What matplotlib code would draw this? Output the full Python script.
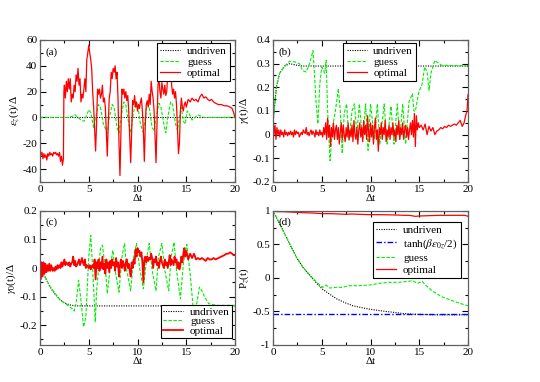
import matplotlib
matplotlib.use("Agg")
from matplotlib import pyplot as plt
from matplotlib.ticker import MultipleLocator, FuncFormatter

# ---- panel (a): eps_z(t)/Delta ----
A_UND_T = [0.0, 20.0]
A_UND_Y = [0.0, 0.0]
A_GUESS_T = [0.0, 3.0, 3.3, 3.6, 3.9, 4.2, 4.5, 4.7, 5.0, 5.2, 5.5, 5.7, 6.0, 6.2, 6.5, 6.9, 7.1, 7.4, 7.6, 7.9, 8.1,
             8.3, 8.6, 8.8, 9.1, 9.3, 9.5, 9.8, 10.0, 10.3, 10.6, 10.8, 11.0, 11.2, 11.5, 11.7, 11.9, 12.2, 12.4, 12.7,
             12.9, 13.1, 13.4, 13.6, 13.9, 14.1, 14.3, 14.5, 14.7, 14.9, 15.1, 15.3, 15.6, 15.9, 16.2, 16.5, 16.8, 20.0]
A_GUESS_Y = [0, 0, 1, 2, 0, -2, -3, 0, 6, 4, -8, 0, 10, 8, -5, -12, 0, 10, 8, -8, -12,
             0, 12, 10, -5, -12, 0, 12, 10, -5, -12, 0, 12, 8, -8, -10, 0, 11, 8, -5,
             -12, 0, 12, 10, -5, -10, 0, 8, -3, -5, 5, 3, -2, 0, 2, 1, 0, 0]
A_OPT_T = [0.0, 0.05, 0.2, 0.3, 0.4, 0.5, 0.6, 0.7, 0.8, 0.9, 1.0, 1.1, 1.2, 1.3, 1.4, 1.5, 1.6, 1.7, 1.8, 1.9,
           2.0, 2.1, 2.2, 2.3, 2.4, 2.45, 2.5, 2.6, 2.7, 2.8, 2.9, 3.0, 3.1, 3.2, 3.3, 3.4, 3.5, 3.6, 3.7, 3.8,
           3.9, 4.0, 4.1, 4.2, 4.3, 4.4, 4.5, 4.6, 4.7, 4.8, 4.9, 5.0, 5.1, 5.2, 5.3, 5.4, 5.5, 5.6, 5.7, 5.8,
           5.9, 6.0, 6.1, 6.2, 6.3, 6.4, 6.5, 6.6, 6.7, 6.8, 6.9, 7.0, 7.1, 7.2, 7.3, 7.4, 7.5, 7.6, 7.7, 7.8,
           7.9, 8.0, 8.1, 8.2, 8.3, 8.4, 8.5, 8.6, 8.7, 8.8, 8.9, 9.0, 9.1, 9.2, 9.3, 9.4, 9.5, 9.6, 9.7, 9.8,
           9.9, 10.0, 10.1, 10.2, 10.3, 10.4, 10.5, 10.6, 10.7, 10.8, 10.9, 11.0, 11.1, 11.2, 11.3, 11.4, 11.5,
           11.6, 11.7, 11.8, 11.9, 12.0, 12.1, 12.2, 12.3, 12.4, 12.5, 12.6, 12.7, 12.8, 12.9, 13.0, 13.1, 13.2,
           13.3, 13.4, 13.5, 13.6, 13.7, 13.8, 13.9, 14.0, 14.1, 14.2, 14.3, 14.4, 14.5, 14.6, 14.7, 14.8, 14.9,
           15.0, 15.2, 15.4, 15.6, 15.8, 16.0, 16.2, 16.4, 16.6, 16.8, 17.0, 17.2, 17.4, 17.6, 17.8, 18.0, 18.3,
           18.6, 18.9, 19.2, 19.5, 19.7, 19.85, 20.0]
A_OPT_Y = [0, -30, -27, -32, -28, -31, -29, -33, -28, -30, -27, -29, -28, -30, -27, -28, -27, -29, -28, -30,
           -27, -34, -30, -37, -32, 20, 25, 15, 28, 20, 30, 22, 30, 12, 18, 15, 25, 20, 33, 28,
           38, 25, 30, 12, 18, 15, 22, 30, 20, 45, 50, 56, 50, 45, 38, 20, 8, -10, -26, -5,
           22, 18, 22, 15, 18, 25, 12, 15, 8, -10, -30, -5, 15, 20, 35, 30, 38, 35, 40, 30,
           35, 15, -20, -45, -10, 22, 18, 22, 15, 20, 13, 17, 5, -15, -35, -10, 13, 10, 17, 8,
           12, 5, 10, 7, 12, 15, 5, -10, -34, -5, 10, 13, 8, 18, 10, 28, 20,
           15, 5, -15, -35, -5, 25, 30, 20, 15, 27, 22, 18, 25, 17, 20, 35, 45,
           30, 40, 25, 18, 22, 15, 20, 10, -10, -28, -20, 5, 15, 8, 5, 10, 12,
           8, 14, 12, 15, 13, 14, 12, 16, 18, 15, 16, 14, 13, 14, 12, 11, 10,
           10, 9, 9, 8, 7, 4, 0]

# ---- panel (b): gamma(t)/Delta ----
B_UND_T = [0.0, 0.34, 0.68, 1.2, 1.7, 2.5, 3.0, 20.0]
B_UND_Y = [0.05, 0.2, 0.26, 0.29, 0.30, 0.293, 0.29, 0.29]
B_GUESS_T = [0.0, 0.34, 0.68, 1.2, 1.7, 2.2, 2.7, 3.06, 3.4, 3.75, 4.1, 4.25, 4.4, 4.6, 4.8, 5.0, 5.3, 5.45, 5.6, 5.85,
             6.1, 6.4, 6.7, 6.9, 7.1, 7.3, 7.55, 7.8, 8.1, 8.35, 8.6, 8.85, 9.2, 9.5, 9.75, 10.0, 10.4, 10.7, 10.95,
             11.4, 11.7, 12.1, 12.4, 12.75, 13.0, 13.3, 13.6, 13.95, 14.3, 14.45, 14.6, 14.95, 15.3, 15.55, 15.8,
             16.0, 16.2, 16.6, 16.8, 17.3, 18.0, 20.0]
B_GUESS_Y = [0.046, 0.2, 0.26, 0.29, 0.31, 0.308, 0.30, 0.27, 0.265, 0.30, 0.355, 0.26, 0.145, 0.046, 0.215, 0.286,
             0.26, 0.314, 0.10, -0.11, 0.03, 0.10, 0.195, 0.10, -0.08, 0.09, 0.13, -0.024, 0.10, 0.13, 0.0, 0.13,
             -0.02, 0.13, -0.066, 0.13, -0.02, 0.13, -0.04, 0.13, -0.04, 0.12, -0.04, 0.13, -0.02, 0.13, -0.04,
             0.14, 0.173, 0.10, 0.10, 0.18, 0.215, 0.286, 0.265, 0.187, 0.26, 0.314, 0.307, 0.293, 0.293, 0.29]
B_OPT_T = [0.0, 0.1, 0.2, 0.3, 0.4, 0.5, 0.6, 0.7, 0.8, 0.9, 1.0, 1.1, 1.2, 1.3, 1.4, 1.5, 1.6, 1.7, 1.8, 1.9,
           2.0, 2.1, 2.2, 2.3, 2.4, 2.5, 2.6, 2.7, 2.8, 2.9, 3.0, 3.1, 3.2, 3.3, 3.4, 3.5, 3.6, 3.7, 3.8, 3.9,
           4.0, 4.1, 4.2, 4.3, 4.4, 4.5, 4.6, 4.7, 4.8, 4.9, 5.0, 5.1, 5.2, 5.3, 5.4, 5.5, 5.6, 5.7, 5.8, 5.9,
           6.0, 6.1, 6.2, 6.3, 6.4, 6.5, 6.6, 6.7, 6.8, 6.9, 7.0, 7.1, 7.2, 7.3, 7.4, 7.5, 7.6, 7.7, 7.8, 7.9,
           8.0, 8.1, 8.2, 8.3, 8.4, 8.5, 8.6, 8.7, 8.8, 8.9, 9.0, 9.1, 9.2, 9.3, 9.4, 9.5, 9.6, 9.7, 9.8, 9.9,
           10.0, 10.1, 10.2, 10.3, 10.4, 10.5, 10.6, 10.7, 10.8, 10.9, 11.0, 11.1, 11.2, 11.3, 11.4, 11.5, 11.6,
           11.7, 11.8, 11.9, 12.0, 12.1, 12.2, 12.3, 12.4, 12.5, 12.6, 12.7, 12.8, 12.9, 13.0, 13.1, 13.2, 13.3,
           13.4, 13.5, 13.6, 13.7, 13.8, 13.9, 14.0, 14.1, 14.2, 14.3, 14.4, 14.5, 14.6, 14.7, 14.8, 14.9, 15.0,
           15.2, 15.4, 15.6, 15.8, 16.0, 16.2, 16.4, 16.6, 16.8, 17.0, 17.2, 17.4, 17.6, 17.8, 18.0, 18.2, 18.4,
           18.6, 18.8, 19.0, 19.2, 19.4, 19.6, 19.75, 19.9, 20.0]
B_OPT_Y = [0.07, 0.0, 0.04, -0.02, 0.03, 0.0, 0.02, -0.01, 0.02, 0.0, 0.01, -0.01, 0.02, 0.0, 0.01, -0.005, 0.01, 0.0,
           0.015, 0.0, 0.01, -0.01, 0.02, 0.0, 0.015, 0.005, 0.01, -0.01, 0.0, 0.01, 0.0, 0.02, 0.01, 0.005, 0.03, 0.0,
           0.01, -0.005, 0.01, 0.02, 0.0, 0.015, 0.005, -0.01, 0.02, 0.0, 0.01, -0.005, 0.02, 0.0, 0.01, -0.01, 0.03,
           0.0, 0.05, -0.02, 0.07, -0.01, 0.04, -0.05, 0.03, -0.01, 0.05, -0.02, 0.02, 0.04, -0.02, 0.03, -0.04, 0.01,
           0.05, -0.02, 0.04, 0.0, -0.03, 0.03, -0.01, 0.05, -0.02, 0.02, -0.01, 0.04, -0.03, 0.06, 0.0, -0.02, 0.03,
           -0.04, 0.02, 0.05, -0.01, 0.03, -0.03, 0.06, 0.0, 0.04, -0.02, 0.08, 0.01, -0.03, 0.05, -0.01, 0.04, -0.04,
           0.03, 0.07, -0.02, 0.02, -0.07, 0.03, 0.0, 0.05, -0.02, 0.03, 0.0, 0.06, -0.03, 0.02, -0.01, 0.04, -0.02,
           0.03, 0.0, 0.05, -0.01, 0.02, -0.03, 0.04, 0.0, 0.06, -0.02, 0.03, 0.0, 0.05, -0.02, 0.02, 0.04, -0.01,
           0.03, -0.02, 0.02, 0.05, 0.0, 0.06, -0.01, 0.09, -0.05, 0.08, 0.02, 0.05, 0.03, 0.04, 0.02, 0.045, 0.0,
           0.035, 0.015, 0.03, 0.0, 0.015, 0.02, 0.03, 0.025, 0.035, 0.03, 0.04, 0.035, 0.04, 0.045, 0.04, 0.05,
           0.06, 0.035, 0.05, 0.08, 0.1, 0.17]

# ---- panel (c): gamma_0(t)/Delta ----
C_UND_T = [0.0, 0.5, 1.0, 1.5, 2.0, 2.5, 3.0, 3.5, 4.0, 20.0]
C_UND_Y = [0.0, -0.03, -0.065, -0.09, -0.11, -0.122, -0.129, -0.132, -0.133, -0.133]
C_GUESS_T = [0.0, 0.2, 0.7, 1.06, 1.57, 2.1, 2.76, 3.3, 3.5, 3.7, 3.96, 4.2, 4.47, 4.7, 5.0, 5.2, 5.4, 5.67, 5.8, 6.2,
             6.4, 6.7, 6.9, 7.2, 7.47, 7.7, 8.1, 8.4, 8.67, 8.9, 9.3, 9.6, 9.9, 10.2, 10.6, 10.95, 11.2, 11.5, 11.9,
             12.15, 12.5, 12.8, 13.2, 13.45, 13.75, 14.0, 14.4, 14.7, 15.05, 15.4, 15.7, 15.9, 16.1, 16.35, 16.6,
             16.9, 17.3, 18.1, 20.0]
C_GUESS_Y = [0.0, -0.01, -0.043, -0.067, -0.09, -0.114, -0.129, -0.143, -0.151, -0.125, -0.043, -0.114, -0.207,
             -0.172, 0.039, 0.115, 0.0, -0.19, -0.08, 0.068, 0.08, 0.0, -0.09, 0.0, 0.062, -0.008, -0.085, 0.039,
             0.086, -0.008, -0.08, 0.039, 0.086, 0.004, -0.073, 0.039, 0.086, -0.008, -0.08, 0.039, 0.086, -0.008,
             -0.08, 0.039, 0.09, -0.008, -0.108, 0.015, 0.083, -0.02, -0.137, -0.15, -0.12, -0.067, -0.08, -0.102,
             -0.125, -0.131, -0.131]
C_OPT_T = [0.0, 0.05, 0.15, 0.25, 0.35, 0.45, 0.55, 0.65, 0.75, 0.85, 0.95, 1.05, 1.15, 1.3, 1.4, 1.5, 1.6, 1.7,
           1.8, 1.9, 2.0, 2.1, 2.2, 2.3, 2.5, 2.6, 2.7, 2.8, 2.9, 3.0, 3.1, 3.2, 3.3, 3.4, 3.5, 3.6, 3.7, 3.8, 3.9,
           4.0, 4.1, 4.2, 4.3, 4.4, 4.5, 4.6, 4.7, 4.8, 4.9, 5.0, 5.1, 5.2, 5.3, 5.4, 5.5, 5.6, 5.7, 5.8, 5.9, 6.0,
           6.1, 6.2, 6.3, 6.4, 6.5, 6.6, 6.7, 6.8, 6.9, 7.0, 7.1, 7.2, 7.3, 7.4, 7.5, 7.6, 7.7, 7.8, 7.9, 8.0, 8.1,
           8.2, 8.3, 8.4, 8.5, 8.6, 8.7, 8.8, 8.9, 9.0, 9.1, 9.2, 9.3, 9.4, 9.5, 9.6, 9.7, 9.8, 9.9, 10.0, 10.1,
           10.2, 10.3, 10.4, 10.5, 10.6, 10.7, 10.8, 10.9, 11.0, 11.1, 11.2, 11.3, 11.4, 11.5, 11.6, 11.7, 11.8,
           11.9, 12.0, 12.1, 12.2, 12.3, 12.4, 12.5, 12.6, 12.7, 12.8, 12.9, 13.0, 13.1, 13.2, 13.3, 13.4, 13.5,
           13.6, 13.7, 13.8, 13.9, 14.0, 14.1, 14.2, 14.3, 14.4, 14.5, 14.6, 14.7, 14.8, 14.9, 15.0, 15.2, 15.4,
           15.6, 15.8, 16.0, 16.2, 16.4, 16.6, 16.8, 17.0, 17.2, 17.4, 17.6, 17.8, 18.0, 18.3, 18.6, 18.9, 19.1,
           19.3, 19.5, 19.7, 19.85, 20.0]
C_OPT_Y = [0.0, -0.04, 0.02, -0.03, 0.02, -0.02, 0.015, -0.015, 0.01, -0.01, 0.015, -0.01, 0.01, -0.01, 0.0, -0.01,
           0.005, -0.005, 0.01, 0.0, 0.01, 0.0, 0.02, 0.005, 0.03, 0.01, 0.02, 0.015, 0.01, 0.02, 0.005, 0.015, 0.02,
           0.04, 0.01, 0.025, 0.005, 0.01, 0.02, 0.03, 0.01, 0.02, 0.035, 0.02, 0.01, 0.03, 0.0, 0.01, 0.005, 0.0,
           0.01, -0.005, 0.005, 0.01, 0.0, 0.03, -0.04, 0.02, 0.0, 0.03, -0.01, 0.02, 0.0, 0.04, -0.005, 0.015,
           -0.02, 0.03, 0.0, 0.02, -0.015, 0.025, 0.0, 0.03, 0.01, 0.02, -0.01, 0.035, 0.005, 0.02, -0.03, 0.01,
           0.03, 0.0, 0.025, 0.01, -0.01, 0.02, 0.03, 0.0, 0.015, -0.01, -0.03, 0.02, 0.0, 0.03, 0.015, 0.065, 0.04,
           0.07, 0.055, 0.06, 0.04, 0.055, 0.02, -0.05, 0.03, 0.04, 0.02, 0.04, 0.025, 0.035, 0.03, 0.05, 0.035,
           0.0, 0.03, 0.02, 0.04, 0.01, 0.02, 0.0, 0.025, 0.04, 0.02, 0.01, 0.0, 0.03, 0.01, 0.02, 0.0, 0.02, 0.045,
           0.01, 0.03, 0.02, 0.01, 0.04, 0.02, 0.03, 0.0, 0.02, -0.005, 0.01, 0.04, 0.02, 0.05, 0.07, 0.04, 0.06,
           0.03, 0.05, 0.035, 0.05, 0.03, 0.035, 0.03, 0.035, 0.03, 0.025, 0.035, 0.03, 0.03, 0.035, 0.03, 0.035,
           0.04, 0.045, 0.05, 0.05, 0.055, 0.05, 0.045, 0.045]

# ---- panel (d): P_z(t) ----
D_UND_T = [0.0, 1.02, 1.7, 2.4, 3.06, 3.9, 4.6, 5.1, 5.6, 6.5, 7.4, 8.2, 9.0, 9.9, 10.8, 11.6, 12.5, 13.3, 14.3,
           15.5, 16.7, 20.0]
D_UND_Y = [1.0, 0.71, 0.51, 0.31, 0.16, 0.02, -0.1, -0.17, -0.22, -0.31, -0.37, -0.415, -0.44, -0.465, -0.485,
           -0.5, -0.515, -0.53, -0.54, -0.545, -0.55, -0.55]
D_TANH = -0.54
D_GUESS_T = [0.0, 0.34, 1.02, 1.7, 2.4, 3.06, 3.9, 4.6, 5.1, 5.44, 5.8, 6.5, 7.1, 7.8, 8.8, 9.9, 10.9, 11.9, 12.9,
             13.9, 14.3, 14.8, 15.3, 15.65, 16.3, 17.3, 18.4, 19.2, 20.0]
D_GUESS_Y = [1.0, 0.91, 0.71, 0.51, 0.31, 0.16, 0.02, -0.08, -0.14, -0.105, -0.15, -0.14, -0.14, -0.115, -0.115,
             -0.105, -0.08, -0.065, -0.065, -0.05, -0.04, -0.08, -0.05, -0.105, -0.19, -0.28, -0.34, -0.38, -0.415]
D_OPT_T = [0.0, 0.5, 1.0, 2.4, 3.0, 4.0, 5.1, 6.0, 7.5, 8.0, 9.9, 11.0, 12.6, 13.5, 14.0, 14.6, 15.0, 16.0, 17.0,
           18.4, 19.7, 20.0]
D_OPT_Y = [1.0, 0.99, 0.99, 0.98, 0.975, 0.97, 0.96, 0.96, 0.95, 0.955, 0.945, 0.945, 0.94, 0.935, 0.935, 0.92,
           0.925, 0.93, 0.935, 0.935, 0.935, 0.92]

LABELS3 = ["undriven", "guess", "optimal"]
LABEL_TANH = r"tanh($\beta\epsilon_{0z}$/2)"

RED = "#ff0000"
GREEN = "#00ee00"
SPINE = "#606060"


def style_axes(ax, ylim, ymaj, ymin, ylabel, tag):
    ax.set_xlim(0, 20)
    ax.set_ylim(*ylim)
    ax.xaxis.set_major_locator(MultipleLocator(5))
    ax.xaxis.set_minor_locator(MultipleLocator(2.5))
    ax.yaxis.set_major_locator(MultipleLocator(ymaj))
    ax.yaxis.set_minor_locator(MultipleLocator(ymin))
    ax.yaxis.set_major_formatter(FuncFormatter(lambda v, p: f"{round(v, 6):g}"))
    ax.tick_params(which="both", direction="in", top=True, right=True, labelsize=8, color="black", pad=2)
    ax.tick_params(which="major", length=4, width=0.8)
    ax.tick_params(which="minor", length=2, width=0.8)
    for s in ax.spines.values():
        s.set_color(SPINE)
        s.set_linewidth(0.9)
    ax.set_xlabel("Δt", fontsize=8, labelpad=0)
    ax.set_ylabel(ylabel, fontsize=8, labelpad=1)
    ax.text(0.03, 0.95, tag, transform=ax.transAxes, fontsize=8, va="top", ha="left")


def legend(ax, spacing=0.1, pad=0.3, **kw):
    leg = ax.legend(fontsize=8, frameon=True, fancybox=False, edgecolor="black", framealpha=1,
                    handlelength=1.8, handletextpad=0.6, labelspacing=spacing, borderpad=pad, borderaxespad=0, **kw)
    leg.get_frame().set_linewidth(0.8)
    return leg


def main() -> None:
    plt.rcParams["font.family"] = ["Liberation Serif", "DejaVu Serif"]
    plt.rcParams["mathtext.fontset"] = "stix"
    plt.rcParams["axes.unicode_minus"] = False
    fig = plt.figure(figsize=(5.4, 3.82), dpi=100)

    ax = fig.add_axes([0.0741, 0.5236, 0.3611, 0.3717])
    ax.plot(A_UND_T, A_UND_Y, color="black", ls=(0, (1, 1.2)), lw=0.8, label=LABELS3[0])
    ax.plot(A_GUESS_T, A_GUESS_Y, color=GREEN, ls=(0, (3, 1.5)), lw=0.8, label=LABELS3[1])
    ax.plot(A_OPT_T, A_OPT_Y, color=RED, lw=0.9, label=LABELS3[2])
    style_axes(ax, (-50, 60), 20, 10, r"$\epsilon_z$(t)/Δ", "(a)")
    legend(ax, loc="upper right", bbox_to_anchor=(0.975, 0.98))

    ax = fig.add_axes([0.5056, 0.5236, 0.3611, 0.3717])
    ax.plot(B_UND_T, B_UND_Y, color="black", ls=(0, (1, 1.2)), lw=0.8, label=LABELS3[0])
    ax.plot(B_GUESS_T, B_GUESS_Y, color=GREEN, ls=(0, (3, 1.5)), lw=0.8, label=LABELS3[1])
    ax.plot(B_OPT_T, B_OPT_Y, color=RED, lw=0.9, label=LABELS3[2])
    style_axes(ax, (-0.2, 0.4), 0.1, 0.05, r"$\gamma$(t)/Δ", "(b)")
    legend(ax, loc="upper left", bbox_to_anchor=(0.36, 0.98))

    ax = fig.add_axes([0.0741, 0.0969, 0.3611, 0.3508])
    ax.plot(C_UND_T, C_UND_Y, color="black", ls=(0, (1, 1.2)), lw=0.8, label=LABELS3[0])
    ax.plot(C_GUESS_T, C_GUESS_Y, color=GREEN, ls=(0, (3, 1.5)), lw=0.8, label=LABELS3[1])
    ax.plot(C_OPT_T, C_OPT_Y, color=RED, lw=1.3, label=LABELS3[2])
    style_axes(ax, (-0.27, 0.2), 0.1, 0.05, r"$\gamma_0$(t)/Δ", "(c)")
    legend(ax, spacing=0.0, pad=0.2, loc="lower right", bbox_to_anchor=(0.985, 0.05))

    ax = fig.add_axes([0.5056, 0.0969, 0.3611, 0.3508])
    ax.plot(D_UND_T, D_UND_Y, color="black", ls=(0, (1, 1.2)), lw=0.8, label=LABELS3[0])
    ax.axhline(D_TANH, color="blue", ls=(0, (4, 1.5, 1, 1.5)), lw=1.0, label=LABEL_TANH)
    ax.plot(D_GUESS_T, D_GUESS_Y, color=GREEN, ls=(0, (3, 1.5)), lw=0.8, label=LABELS3[1])
    ax.plot(D_OPT_T, D_OPT_Y, color=RED, lw=0.9, label=LABELS3[2])
    style_axes(ax, (-1, 1), 0.5, 0.25, r"P$_z$(t)", "(d)")
    legend(ax, spacing=0.2, loc="upper left", bbox_to_anchor=(0.513, 0.92))

    fig.savefig("out.png", dpi=100)
    plt.close(fig)


if __name__ == "__main__":
    main()
